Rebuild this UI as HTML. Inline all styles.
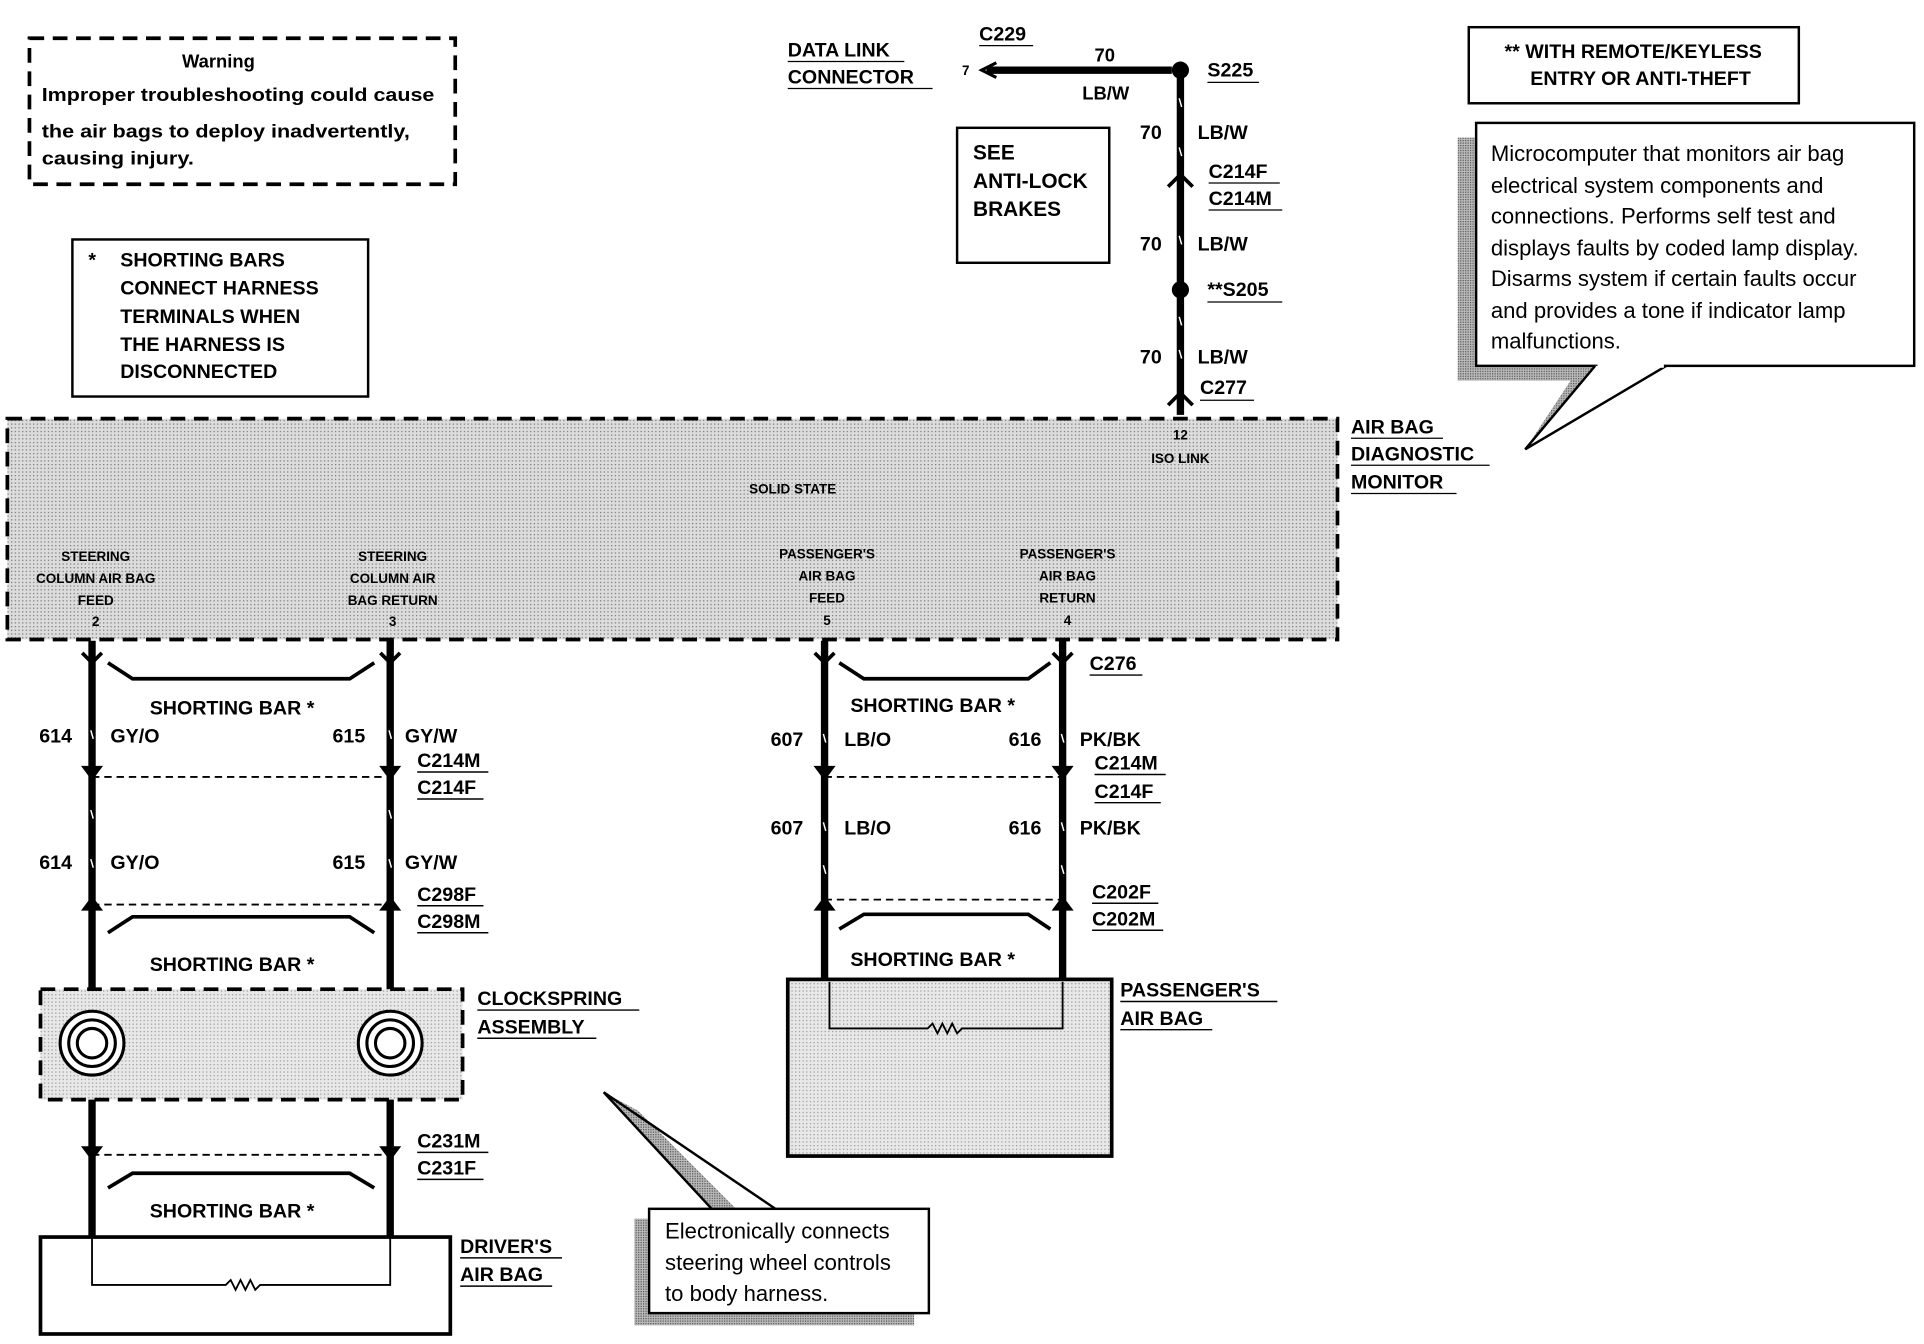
<!DOCTYPE html>
<html><head><meta charset="utf-8"><style>
html,body{margin:0;padding:0;background:#fff;}
svg{display:block;}
text{font-family:"Liberation Sans",Arial,sans-serif;font-weight:bold;fill:#000;}
</style></head><body>
<svg width="1924" height="1344" viewBox="0 0 1568 1095" xmlns="http://www.w3.org/2000/svg">
<defs>
<pattern id="dots" width="3" height="3" patternUnits="userSpaceOnUse"><rect width="3" height="3" fill="#dcdcdc"/><rect width="1" height="1" fill="#777"/></pattern>
<pattern id="dots3" width="3" height="3" patternUnits="userSpaceOnUse"><rect width="3" height="3" fill="#e8e8e8"/><rect width="1" height="1" fill="#999"/></pattern>
<pattern id="dots2" width="2" height="2" patternUnits="userSpaceOnUse"><rect width="2" height="2" fill="#bbb"/><rect width="1" height="1" fill="#555"/></pattern>
</defs>

<rect x="24" y="31" width="347" height="119" fill="none" stroke="#000" stroke-width="3" stroke-dasharray="12,7"/>
<text x="178" y="55" font-size="15" text-anchor="middle">Warning</text>
<text x="34" y="82" font-size="15" textLength="320" lengthAdjust="spacingAndGlyphs">Improper troubleshooting could cause</text>
<text x="34" y="112" font-size="15" textLength="300" lengthAdjust="spacingAndGlyphs">the air bags to deploy inadvertently,</text>
<text x="34" y="134" font-size="15" textLength="124" lengthAdjust="spacingAndGlyphs">causing injury.</text>

<rect x="59" y="195" width="241" height="128" fill="none" stroke="#000" stroke-width="2"/>
<text font-size="16"><tspan x="72" y="217">*</tspan><tspan x="98" y="217">SHORTING BARS</tspan><tspan x="98" y="240">CONNECT HARNESS</tspan><tspan x="98" y="263">TERMINALS WHEN</tspan><tspan x="98" y="286">THE HARNESS IS</tspan><tspan x="98" y="308">DISCONNECTED</tspan></text>

<rect x="1197" y="22" width="269" height="62" fill="none" stroke="#000" stroke-width="2"/>
<text x="1331" y="47" font-size="16" text-anchor="middle">** WITH REMOTE/KEYLESS</text>
<text x="1337" y="69" font-size="16" text-anchor="middle">ENTRY OR ANTI-THEFT</text>

<polygon points="1188,112 1203,112 1203,298 1300,298 1243,366 1280,310 1188,310" fill="url(#dots2)"/>
<rect x="1203" y="100" width="357" height="198" fill="#fff" stroke="#000" stroke-width="2"/>
<polyline points="1300,298 1243,366 1358,298" fill="#fff" stroke="#000" stroke-width="2"/>
<line x1="1302" y1="298" x2="1356" y2="298" stroke="#fff" stroke-width="3"/>
<text font-size="18" style="font-weight:normal"><tspan x="1215" y="131">Microcomputer that monitors air bag</tspan><tspan x="1215" y="157">electrical system components and</tspan><tspan x="1215" y="182">connections.  Performs self test and</tspan><tspan x="1215" y="208">displays faults by coded lamp display.</tspan><tspan x="1215" y="233">Disarms system if certain faults occur</tspan><tspan x="1215" y="259">and provides a tone if indicator lamp</tspan><tspan x="1215" y="284">malfunctions.</tspan></text>

<text x="642" y="46" font-size="16">DATA LINK</text><line x1="642" y1="50" x2="737" y2="50" stroke="#000"/>
<text x="642" y="68" font-size="16">CONNECTOR</text><line x1="642" y1="72" x2="760" y2="72" stroke="#000"/>
<text x="798" y="33" font-size="16">C229</text><line x1="798" y1="37" x2="842" y2="37" stroke="#000"/>
<text x="784" y="61" font-size="11">7</text>
<path d="M812,51 L800,57 L812,63" fill="none" stroke="#000" stroke-width="2.5"/>
<line x1="804" y1="57" x2="955" y2="57" stroke="#000" stroke-width="6"/>
<text x="892" y="50" font-size="15">70</text>
<text x="882" y="81" font-size="15">LB/W</text>
<circle cx="962" cy="57" r="7" fill="#000"/>
<text x="984" y="62" font-size="16">S225</text><line x1="984" y1="67" x2="1026" y2="67" stroke="#000"/>
<line x1="962" y1="57" x2="962" y2="338" stroke="#000" stroke-width="6"/>
<text x="929" y="113" font-size="16">70</text><text x="976" y="113" font-size="16">LB/W</text>
<path d="M952,152 L962,142 L972,152" fill="none" stroke="#000" stroke-width="3"/>
<text x="985" y="145" font-size="16">C214F</text><line x1="985" y1="149" x2="1043" y2="149" stroke="#000"/>
<text x="985" y="167" font-size="16">C214M</text><line x1="985" y1="171" x2="1045" y2="171" stroke="#000"/>
<text x="929" y="204" font-size="16">70</text><text x="976" y="204" font-size="16">LB/W</text>
<circle cx="962" cy="236" r="7" fill="#000"/>
<text x="984" y="241" font-size="16">**S205</text><line x1="984" y1="246" x2="1045" y2="246" stroke="#000"/>
<text x="929" y="296" font-size="16">70</text><text x="976" y="296" font-size="16">LB/W</text>
<path d="M952,330 L962,320 L972,330" fill="none" stroke="#000" stroke-width="3"/>
<text x="978" y="321" font-size="16">C277</text><line x1="978" y1="326" x2="1022" y2="326" stroke="#000"/>

<rect x="780" y="104" width="124" height="110" fill="none" stroke="#000" stroke-width="2"/>
<text font-size="17"><tspan x="793" y="130">SEE</tspan><tspan x="793" y="153">ANTI-LOCK</tspan><tspan x="793" y="176">BRAKES</tspan></text>

<rect x="6" y="341" width="1084" height="180" fill="url(#dots)" stroke="#000" stroke-width="3" stroke-dasharray="12,7"/>
<text x="1101" y="353" font-size="16">AIR BAG</text><line x1="1101" y1="357" x2="1176" y2="357" stroke="#000"/>
<text x="1101" y="375" font-size="16">DIAGNOSTIC</text><line x1="1101" y1="379" x2="1214" y2="379" stroke="#000"/>
<text x="1101" y="398" font-size="16">MONITOR</text><line x1="1101" y1="402" x2="1187" y2="402" stroke="#000"/>
<g font-size="11" text-anchor="middle">
<text x="962" y="358">12</text><text x="962" y="377">ISO LINK</text>
<text x="646" y="402">SOLID STATE</text>
<text x="78" y="457">STEERING</text><text x="78" y="475">COLUMN AIR BAG</text><text x="78" y="493">FEED</text><text x="78" y="510">2</text>
<text x="320" y="457">STEERING</text><text x="320" y="475">COLUMN AIR</text><text x="320" y="493">BAG RETURN</text><text x="320" y="510">3</text>
<text x="674" y="455">PASSENGER'S</text><text x="674" y="473">AIR BAG</text><text x="674" y="491">FEED</text><text x="674" y="509">5</text>
<text x="870" y="455">PASSENGER'S</text><text x="870" y="473">AIR BAG</text><text x="870" y="491">RETURN</text><text x="870" y="509">4</text>
</g>

<g stroke="#000" stroke-width="6">
<line x1="75" y1="522" x2="75" y2="1008"/><line x1="318" y1="522" x2="318" y2="1008"/>
<line x1="672" y1="522" x2="672" y2="800"/><line x1="866" y1="522" x2="866" y2="800"/>
</g>
<!-- wire slash marks -->
<g stroke="#fff" stroke-width="1.2">
<line x1="74" y1="595" x2="76" y2="602"/><line x1="317" y1="595" x2="319" y2="602"/>
<line x1="74" y1="660" x2="76" y2="667"/><line x1="317" y1="660" x2="319" y2="667"/>
<line x1="74" y1="700" x2="76" y2="707"/><line x1="317" y1="700" x2="319" y2="707"/>
<line x1="671" y1="598" x2="673" y2="605"/><line x1="865" y1="598" x2="867" y2="605"/>
<line x1="671" y1="670" x2="673" y2="677"/><line x1="865" y1="670" x2="867" y2="677"/>
<line x1="671" y1="705" x2="673" y2="712"/><line x1="865" y1="705" x2="867" y2="712"/>
<line x1="961" y1="80" x2="963" y2="87"/><line x1="961" y1="120" x2="963" y2="127"/>
<line x1="961" y1="192" x2="963" y2="199"/><line x1="961" y1="258" x2="963" y2="265"/>
<line x1="961" y1="285" x2="963" y2="292"/>
</g>
<g fill="none" stroke="#000" stroke-width="3">
<path d="M67,532 L75,540 L83,532"/><path d="M310,532 L318,540 L326,532"/>
<path d="M664,532 L672,540 L680,532"/><path d="M858,532 L866,540 L874,532"/>
</g>
<g fill="#000">
<path d="M66,624 L75,636 L84,624 Z"/><path d="M309,624 L318,636 L327,624 Z"/>
<path d="M663,624 L672,636 L681,624 Z"/><path d="M857,624 L866,636 L875,624 Z"/>
<path d="M66,742 L75,730 L84,742 Z"/><path d="M309,742 L318,730 L327,742 Z"/>
<path d="M663,742 L672,730 L681,742 Z"/><path d="M857,742 L866,730 L875,742 Z"/>
<path d="M66,934 L75,946 L84,934 Z"/><path d="M309,934 L318,946 L327,934 Z"/>
</g>
<g fill="none" stroke="#000" stroke-width="1.5" stroke-dasharray="6,4">
<line x1="75" y1="633" x2="318" y2="633"/><line x1="75" y1="737" x2="318" y2="737"/><line x1="75" y1="941" x2="318" y2="941"/>
<line x1="672" y1="633" x2="866" y2="633"/><line x1="672" y1="733" x2="866" y2="733"/>
</g>
<g fill="none" stroke="#000" stroke-width="3">
<path d="M88,540 L108,553 L285,553 L305,540"/>
<path d="M88,760 L108,747 L285,747 L305,760"/>
<path d="M88,968 L108,956 L285,956 L305,968"/>
<path d="M684,540 L704,553 L838,553 L856,540"/>
<path d="M684,757 L704,745 L838,745 L856,757"/>
</g>
<g font-size="16">
<text x="122" y="582">SHORTING BAR *</text>
<text x="32" y="605">614</text><text x="90" y="605">GY/O</text><text x="271" y="605">615</text><text x="330" y="605">GY/W</text>
<text x="340" y="625">C214M</text><text x="340" y="647">C214F</text>
<text x="32" y="708">614</text><text x="90" y="708">GY/O</text><text x="271" y="708">615</text><text x="330" y="708">GY/W</text>
<text x="340" y="734">C298F</text><text x="340" y="756">C298M</text>
<text x="122" y="791">SHORTING BAR *</text>
<text x="389" y="819">CLOCKSPRING</text><text x="389" y="842">ASSEMBLY</text>
<text x="340" y="935">C231M</text><text x="340" y="957">C231F</text>
<text x="122" y="992">SHORTING BAR *</text>
<text x="375" y="1021">DRIVER'S</text><text x="375" y="1044">AIR BAG</text>
<text x="888" y="546">C276</text>
<text x="693" y="580">SHORTING BAR *</text>
<text x="628" y="608">607</text><text x="688" y="608">LB/O</text><text x="822" y="608">616</text><text x="880" y="608">PK/BK</text>
<text x="892" y="627">C214M</text><text x="892" y="650">C214F</text>
<text x="628" y="680">607</text><text x="688" y="680">LB/O</text><text x="822" y="680">616</text><text x="880" y="680">PK/BK</text>
<text x="890" y="732">C202F</text><text x="890" y="754">C202M</text>
<text x="693" y="787">SHORTING BAR *</text>
<text x="913" y="812">PASSENGER'S</text><text x="913" y="835">AIR BAG</text>
</g>
<g stroke="#000" stroke-width="1.2">
<line x1="340" y1="629" x2="398" y2="629"/><line x1="340" y1="651" x2="394" y2="651"/>
<line x1="340" y1="738" x2="394" y2="738"/><line x1="340" y1="760" x2="398" y2="760"/>
<line x1="389" y1="823" x2="521" y2="823"/><line x1="389" y1="846" x2="486" y2="846"/>
<line x1="340" y1="939" x2="398" y2="939"/><line x1="340" y1="961" x2="394" y2="961"/>
<line x1="375" y1="1025" x2="458" y2="1025"/><line x1="375" y1="1048" x2="450" y2="1048"/>
<line x1="888" y1="550" x2="931" y2="550"/>
<line x1="892" y1="631" x2="950" y2="631"/><line x1="892" y1="654" x2="946" y2="654"/>
<line x1="890" y1="736" x2="944" y2="736"/><line x1="890" y1="758" x2="948" y2="758"/>
<line x1="913" y1="816" x2="1041" y2="816"/><line x1="913" y1="839" x2="988" y2="839"/>
</g>

<rect x="33" y="806" width="344" height="90" fill="url(#dots3)" stroke="#000" stroke-width="3" stroke-dasharray="12,7"/>
<g fill="#fff" stroke="#000" stroke-width="2.5">
<circle cx="75" cy="850" r="26"/><circle cx="75" cy="850" r="19"/><circle cx="75" cy="850" r="12"/>
<circle cx="318" cy="850" r="26"/><circle cx="318" cy="850" r="19"/><circle cx="318" cy="850" r="12"/>
</g>

<rect x="33" y="1008" width="334" height="79" fill="#fff" stroke="#000" stroke-width="3"/>
<polyline points="75,1008 75,1047 184,1047 188,1043 192,1051 196,1043 200,1051 204,1043 208,1051 212,1047 318,1047 318,1008" fill="none" stroke="#000" stroke-width="1.5"/>

<rect x="642" y="798" width="264" height="144" fill="url(#dots3)" stroke="#000" stroke-width="3"/>
<polyline points="676,800 676,838 756,838 760,834 764,842 768,834 772,842 776,834 780,842 784,838 866,838 866,800" fill="none" stroke="#000" stroke-width="1.5"/>

<polygon points="517,993 529,993 529,1070 745,1070 745,1080 517,1080" fill="url(#dots2)"/>
<polygon points="492,890 580,985 600,985 520,905" fill="url(#dots2)"/>
<rect x="529" y="985" width="228" height="85" fill="#fff" stroke="#000" stroke-width="2"/>
<polyline points="580,985 492,890 632,985" fill="none" stroke="#000" stroke-width="2"/>
<text font-size="18" style="font-weight:normal"><tspan x="542" y="1009">Electronically connects</tspan><tspan x="542" y="1035">steering wheel controls</tspan><tspan x="542" y="1060">to body harness.</tspan></text>
</svg>
</body></html>
